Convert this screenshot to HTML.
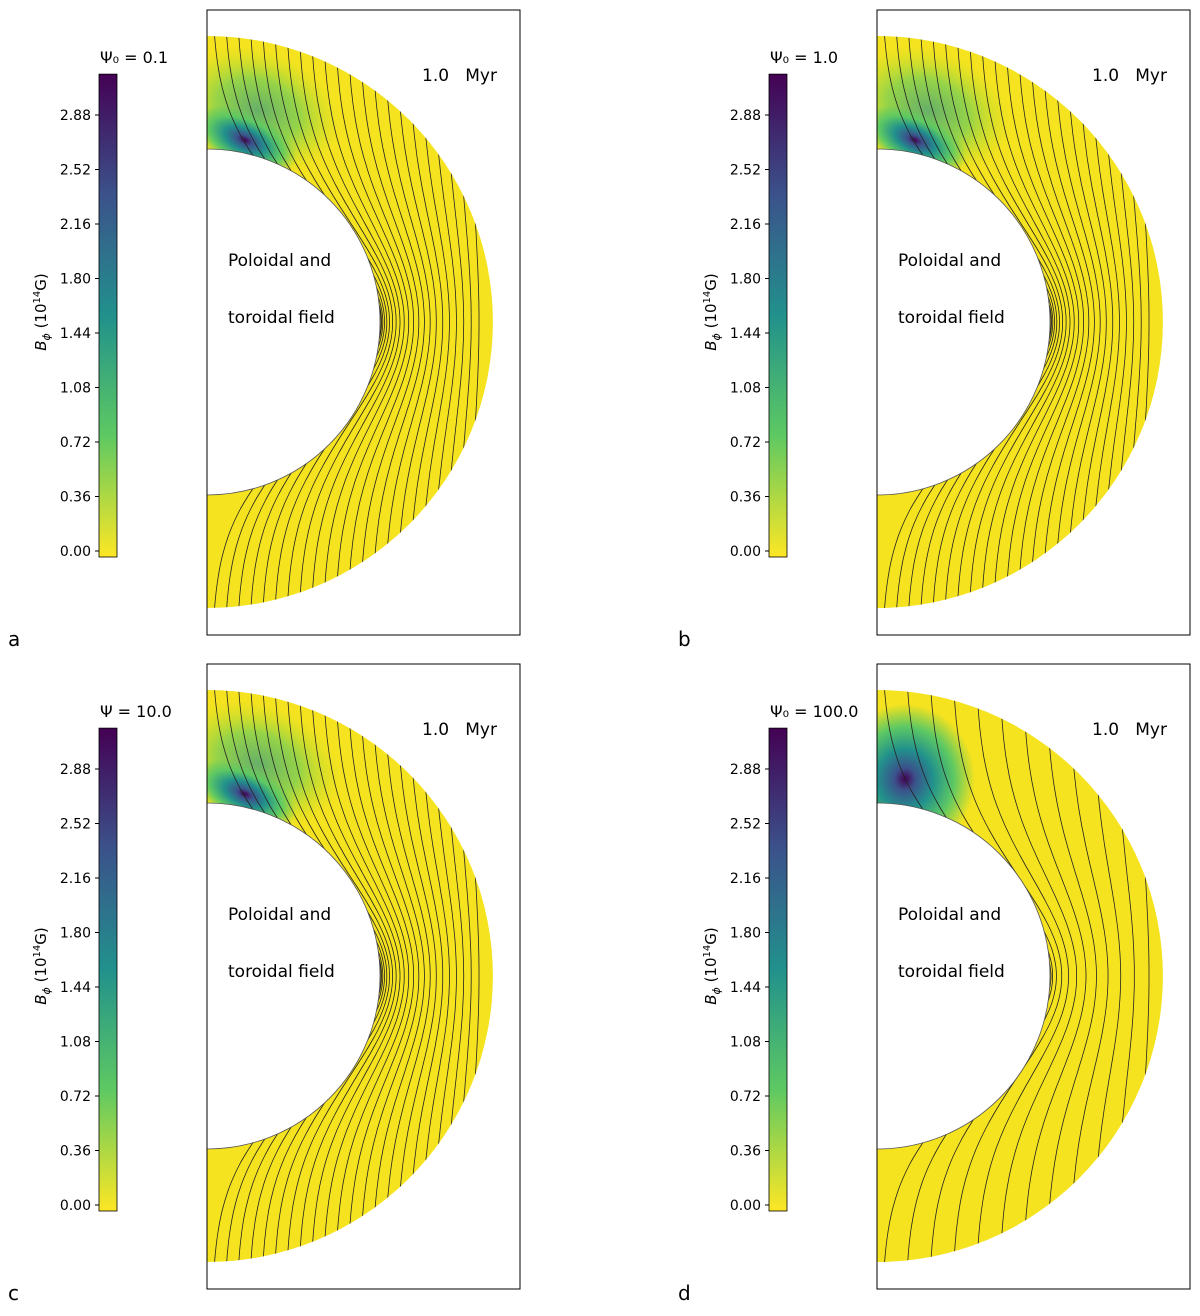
<!DOCTYPE html>
<html><head><meta charset="utf-8">
<style>
body{margin:0;background:#fff;}
svg text{font-family:"DejaVu Sans","Liberation Sans",sans-serif;white-space:pre;}
</style></head>
<body>
<svg id="fig" width="1200" height="1311" viewBox="0 0 1200 1311" xmlns="http://www.w3.org/2000/svg">
<defs>
<linearGradient id="viridis" x1="0" y1="1" x2="0" y2="0">
<stop offset="0" stop-color="#fde725"/><stop offset="0.25" stop-color="#5ec962"/>
<stop offset="0.5" stop-color="#21918c"/><stop offset="0.75" stop-color="#3b528b"/>
<stop offset="1" stop-color="#440154"/>
</linearGradient>
<radialGradient id="blob" cx="0.5" cy="0.5" r="0.5">
<stop offset="0" stop-color="#440154"/><stop offset="0.15" stop-color="#3b528b"/>
<stop offset="0.4" stop-color="#21918c"/><stop offset="0.7" stop-color="#5ec962"/>
<stop offset="1" stop-color="#5ec962" stop-opacity="0"/>
</radialGradient>
<radialGradient id="halo" cx="0.5" cy="0.5" r="0.5">
<stop offset="0" stop-color="#2a9a88"/><stop offset="0.5" stop-color="#6ccd5a"/>
<stop offset="1" stop-color="#b5de2b" stop-opacity="0"/>
</radialGradient>
</defs>
</svg>
<script>
const panelLetters=['a','b','c','d'];
const psiTitles=['\u03A8\u2080 = 0.1','\u03A8\u2080 = 1.0','\u03A8 = 10.0','\u03A8\u2080 = 100.0'];
const tickValues=[0.00,0.36,0.72,1.08,1.44,1.80,2.16,2.52,2.88];
const lineCount=[22,22,22,12];
const svg=document.getElementById('fig');
const NS='http://www.w3.org/2000/svg';
function mk(tag,attrs,parent){const e=document.createElementNS(NS,tag);for(const k in attrs)e.setAttribute(k,attrs[k]);(parent||svg).appendChild(e);return e;}
const offs=[[0,0],[670,0],[0,654],[670,654]];
offs.forEach((o,i)=>{
  const g=mk('g',{transform:`translate(${o[0]},${o[1]})`});
  
  
  const cx=207,cy=322,Ri=173,Ro=286;
  const ann=`M${cx},${cy-Ro} A${Ro},${Ro} 0 0 1 ${cx},${cy+Ro} L${cx},${cy+Ri} A${Ri},${Ri} 0 0 0 ${cx},${cy-Ri} Z`;
  const cp=mk('clipPath',{id:'cp'+i},g);mk('path',{d:ann},cp);
  const an=mk('path',{d:ann,fill:'#f5e31f'},g);
  
  
  const bg=mk('g',{'clip-path':`url(#cp${i})`},g);
  if(i<3){
    mk('ellipse',{cx:258,cy:110,rx:85,ry:60,fill:'url(#halo)',opacity:0.7,transform:'rotate(20 258 110)'},bg);
    mk('ellipse',{cx:245,cy:140,rx:55,ry:28,fill:'url(#blob)',transform:'rotate(25 245 140)'},bg);
  }else{
    mk('ellipse',{cx:235,cy:125,rx:70,ry:75,fill:'url(#blob)'},bg);
  }
  const lg=mk('g',{'clip-path':`url(#cp${i})`,fill:'none',stroke:'#222',"stroke-width":0.8},g);
  const n=lineCount[i];
  for(let k=0;k<n;k++){
    const f=k/(n-1);
    const c=212+f*258;
    const e=381+Math.pow(f,1.7)*98;
    let d='';
    for(let y=20;y<=630;y+=4){
      const w=Math.exp(-Math.pow((y-cy)/140,2));
      const x=c+(e-c)*w;
      d+=(d?'L':'M')+x.toFixed(1)+','+y;
    }
    const p=mk('path',{d},lg);
    
    
  }
  mk('path',{d:`M${cx},${cy+Ri} A${Ri},${Ri} 0 0 0 ${cx},${cy-Ri}`,fill:'none',stroke:'#555','stroke-width':0.8},g);
  const fr=mk('rect',{x:207,y:10,width:313,height:625,fill:'none',stroke:'#000','stroke-width':1},g);
  
  
  const y0=551,per=(551-115)/2.88;
  const top=y0-3.15*per;
  const cb=mk('rect',{x:99,y:top,width:18,height:y0+6-top,fill:'url(#viridis)',stroke:'#000','stroke-width':0.8},g);
  
  
  tickValues.forEach(v=>{
    const y=y0-v*per;
    mk('line',{x1:95,x2:99,y1:y,y2:y,stroke:'#000'},g);
    const t=mk('text',{x:91,y:y+5,'text-anchor':'end','font-size':14},g);t.textContent=v.toFixed(2);
    
    
  });
  const tt=mk('text',{x:100,y:63,'font-size':16},g);tt.textContent=psiTitles[i];
  
  
  const yl=mk('text',{x:0,y:0,'font-size':15,'text-anchor':'middle',transform:'translate(46,312) rotate(-90)'},g);
  yl.innerHTML='<tspan font-style="italic">B</tspan><tspan font-size="11" dy="4" font-style="italic">\u03D5</tspan><tspan dy="-4"> (10</tspan><tspan font-size="10" dy="-6">14</tspan><tspan dy="6">G)</tspan>';
  
  
  const tm=mk('text',{x:422,y:81,'font-size':17},g);tm.textContent='1.0   Myr';
  
  
  const l1=mk('text',{x:228,y:266,'font-size':17},g);l1.textContent='Poloidal and';
  
  
  const l2=mk('text',{x:228,y:323,'font-size':17},g);l2.textContent='toroidal field';
  
  
  const pl=mk('text',{x:8,y:646,'font-size':20,'font-family':'Liberation Serif, serif'},g);pl.textContent=panelLetters[i];
  
  
});
</script>
</body></html>
